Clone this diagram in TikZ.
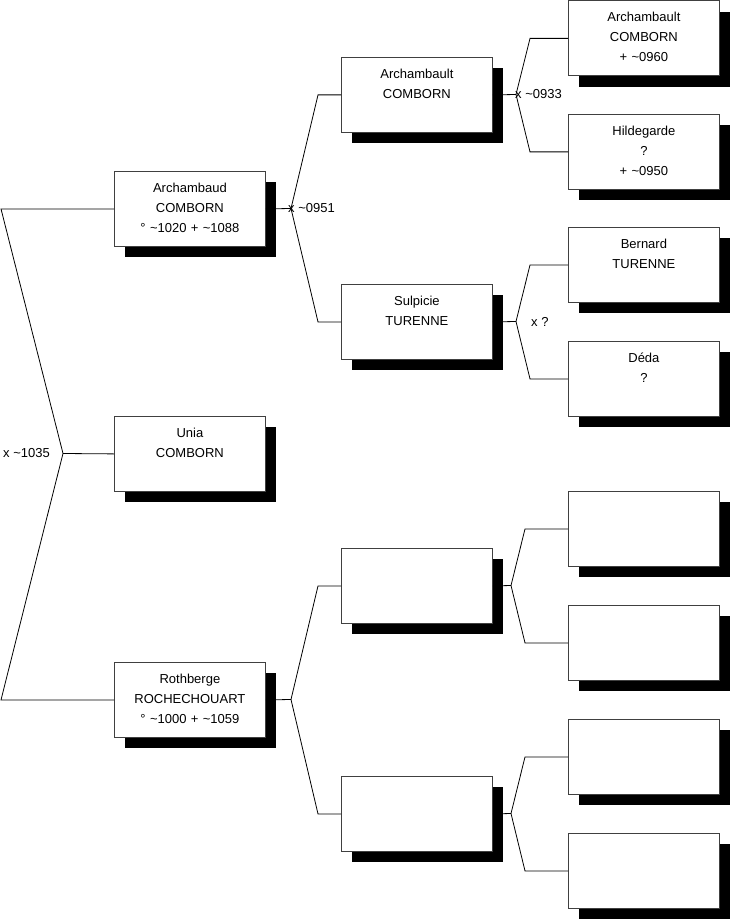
\documentclass[tikz,border=0pt]{standalone}
\usepackage{fontspec}
\setmainfont{Liberation Sans}
\usetikzlibrary{shadows}
\tikzset{
  Pbox/.style={draw=black!75, line width=0.8pt, fill=white, anchor=north west,
               general shadow={fill=black, shadow xshift=11pt, shadow yshift=-11pt},
               align=center, text width=151pt, inner sep=0pt,
               text height=21pt, text depth=54pt,
               font=\fontsize{13}{20}\selectfont},
  Plink/.style={line width=0.8pt},
  Plbl/.style={anchor=west, inner sep=0pt, font=\fontsize{13}{16}\selectfont}
}
\begin{document}
\begin{tikzpicture}[x=1pt,y=-1pt]
  \useasboundingbox (0,0) rectangle (731,920);
  % first generation
  \node[Pbox] (a1) at (114,171) {Archambaud\\COMBORN\\° \textasciitilde1020 + \textasciitilde1088};
  \node[Pbox] (a2) at (114,416) {Unia\\COMBORN};
  \node[Pbox] (a3) at (114,662) {Rothberge\\ROCHECHOUART\\° \textasciitilde1000 + \textasciitilde1059};
  % second generation
  \node[Pbox] (b1) at (341,57) {Archambault\\COMBORN};
  \node[Pbox] (b2) at (341,284) {Sulpicie\\TURENNE};
  \node[Pbox] (b3) at (341,548) {};
  \node[Pbox] (b4) at (341,776) {};
  % third generation
  \node[Pbox] (c1) at (568,0.5) {Archambault\\COMBORN\\+ \textasciitilde0960};
  \node[Pbox] (c2) at (568,114) {Hildegarde\\?\\+ \textasciitilde0950};
  \node[Pbox] (c3) at (568,227) {Bernard\\TURENNE};
  \node[Pbox] (c4) at (568,341) {Déda\\?};
  \node[Pbox] (c5) at (568,491) {};
  \node[Pbox] (c6) at (568,605) {};
  \node[Pbox] (c7) at (568,719) {};
  \node[Pbox] (c8) at (568,833) {};
  % fork points
  \coordinate (v0) at (63,453.5);
  \coordinate (v1) at (291,208.5);
  \coordinate (v2) at (291,699.5);
  \coordinate (v3) at (516,94.5);
  \coordinate (v4) at (516,321.5);
  \coordinate (v5) at (511,585.5);
  \coordinate (v6) at (511,813.5);
  % links
  \draw[Plink] (a1.west) -- ([xshift=-113pt]a1.west) -- (v0) -- ([xshift=-113pt]a3.west) -- (a3.west);
  \draw[Plink] (v0) -- (a2.west);
  \draw[Plink] (a1.east) -- (v1);
  \draw[Plink] (b1.west) -- ([xshift=-23pt]b1.west) -- (v1) -- ([xshift=-23pt]b2.west) -- (b2.west);
  \draw[Plink] (a3.east) -- (v2);
  \draw[Plink] (b3.west) -- ([xshift=-23pt]b3.west) -- (v2) -- ([xshift=-23pt]b4.west) -- (b4.west);
  \draw[Plink] (b1.east) -- (v3);
  \draw[Plink] (c1.west) -- ([xshift=-38pt]c1.west) -- (v3) -- ([xshift=-38pt]c2.west) -- (c2.west);
  \draw[Plink] (b2.east) -- (v4);
  \draw[Plink] (c3.west) -- ([xshift=-38pt]c3.west) -- (v4) -- ([xshift=-38pt]c4.west) -- (c4.west);
  \draw[Plink] (b3.east) -- (v5);
  \draw[Plink] (c5.west) -- ([xshift=-43pt]c5.west) -- (v5) -- ([xshift=-43pt]c6.west) -- (c6.west);
  \draw[Plink] (b4.east) -- (v6);
  \draw[Plink] (c7.west) -- ([xshift=-43pt]c7.west) -- (v6) -- ([xshift=-43pt]c8.west) -- (c8.west);
  % marriage labels
  \node[Plbl] (m0) at (3,453.5) {x \textasciitilde1035};
  \node[Plbl] (m1) at (288,208.5) {x \textasciitilde0951};
  \node[Plbl] (m2) at (515,94.5) {x \textasciitilde0933};
  \node[Plbl] (m3) at (531,321.5) {x ?};
\end{tikzpicture}
\end{document}
